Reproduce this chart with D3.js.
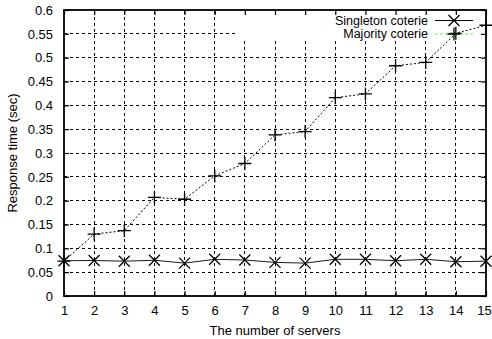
<!DOCTYPE html>
<html>
<head>
<meta charset="utf-8">
<script src="https://cdn.jsdelivr.net/npm/d3@7"></script>
<style>
  body { margin: 0; background: #fff; }
  text { font-family: "Liberation Sans", Arial, sans-serif; font-size: 13px; fill: #000; }
</style>
</head>
<body>
<svg id="chart" width="492" height="339"></svg>
<script>
// servers on x, response times in seconds
const servers = [1, 2, 3, 4, 5, 6, 7, 8, 9, 10, 11, 12, 13, 14, 15];
const singleton = [0.074, 0.0745, 0.073, 0.075, 0.069, 0.077, 0.0755, 0.0705, 0.069, 0.077, 0.077, 0.074, 0.077, 0.072, 0.073];
const majority = [0.073, 0.13, 0.137, 0.207, 0.203, 0.252, 0.278, 0.338, 0.345, 0.416, 0.424, 0.483, 0.49, 0.551, 0.568];
const yTicks = [0, 0.05, 0.1, 0.15, 0.2, 0.25, 0.3, 0.35, 0.4, 0.45, 0.5, 0.55, 0.6];

const margin = { top: 10, right: 6, bottom: 43, left: 64 };
const width = 492 - margin.left - margin.right;
const height = 339 - margin.top - margin.bottom;

const svg = d3.select("#chart");
const g = svg.append("g").attr("transform", `translate(${margin.left},${margin.top})`);

const x = d3.scaleLinear().domain([1, 15]).range([0, width]);
const y = d3.scaleLinear().domain([0, 0.6]).range([height, 0]);

// legend box area, grid is cut out behind it
const legX = x(7.0) - 8;
const legY = y(0.535);

// grid
const grid = g.append("g")
  .attr("stroke", "#000")
  .attr("stroke-width", 1)
  .attr("shape-rendering", "crispEdges")
  .attr("stroke-dasharray", "3,3");

servers.slice(1, -1).forEach(s => {
  const top = s >= 7 ? legY : 0;
  grid.append("line")
    .attr("x1", x(s)).attr("x2", x(s))
    .attr("y1", height).attr("y2", top);
});
yTicks.slice(1, -1).forEach(v => {
  const right = y(v) < legY ? legX : width;
  grid.append("line")
    .attr("x1", 0).attr("x2", right)
    .attr("y1", y(v)).attr("y2", y(v));
});

// axes with mirrored inward ticks
const xAxis = g.append("g")
  .attr("transform", `translate(0,${height})`)
  .call(d3.axisBottom(x).tickValues(servers).tickFormat(d3.format("d")).tickSize(-5).tickPadding(10))
  .call(a => a.select(".domain").remove());
xAxis.selectAll(".tick text").filter(d => d === 15).attr("dx", -2);
g.append("g")
  .call(d3.axisLeft(y).tickValues(yTicks).tickFormat(d => d === 0 ? "0" : String(+d.toFixed(2))).tickSize(-5).tickPadding(11))
  .call(a => a.select(".domain").remove());
g.append("g")
  .call(d3.axisTop(x).tickValues(servers).tickSize(-5).tickFormat(""))
  .call(a => a.select(".domain").remove());
g.append("g")
  .attr("transform", `translate(${width},0)`)
  .call(d3.axisRight(y).tickValues(yTicks).tickSize(-5).tickFormat(""))
  .call(a => a.select(".domain").remove());
g.selectAll(".tick text").style("font-size", "13px").attr("fill", "#000");
g.selectAll(".tick line").attr("stroke-width", 1.2);

g.append("rect")
  .attr("width", width).attr("height", height)
  .attr("fill", "none").attr("stroke", "#000").attr("stroke-width", 1.8);

// lines
const line = d3.line().x((d, i) => x(servers[i])).y(d => y(d));

g.append("path")
  .datum(majority)
  .attr("fill", "none").attr("stroke", "#000").attr("stroke-width", 1)
  .attr("stroke-dasharray", "2,2")
  .attr("d", line);
g.append("path")
  .datum(singleton)
  .attr("fill", "none").attr("stroke", "#000").attr("stroke-width", 0.9)
  .attr("d", line);

function cross(sel, cx, cy, r) {
  sel.append("path")
    .attr("d", `M${cx - r},${cy - r}L${cx + r},${cy + r}M${cx - r},${cy + r}L${cx + r},${cy - r}`)
    .attr("stroke", "#000").attr("stroke-width", 1.3);
}
function plus(sel, cx, cy, r) {
  sel.append("path")
    .attr("d", `M${cx - r},${cy}L${cx + r},${cy}M${cx},${cy - r}L${cx},${cy + r}`)
    .attr("stroke", "#000").attr("stroke-width", 1.3);
}

majority.forEach((v, i) => plus(g, x(servers[i]), y(v), 6.5));
singleton.forEach((v, i) => cross(g, x(servers[i]), y(v), 5.5));

// legend
const legend = [
  { name: "Singleton coterie", color: "#000", dash: null, mark: cross },
  { name: "Majority coterie", color: "#7fdf5f", dash: "3,2", mark: plus }
];
const lg = svg.append("g");
legend.forEach((d, i) => {
  const ly = 20.5 + i * 13.5;
  lg.append("text")
    .attr("x", 428).attr("y", ly).attr("dy", "0.35em")
    .attr("text-anchor", "end")
    .style("font-size", "12.5px")
    .text(d.name);
  lg.append("line")
    .attr("x1", 435).attr("x2", 473).attr("y1", ly).attr("y2", ly)
    .attr("stroke", d.color).attr("stroke-width", 1)
    .attr("stroke-dasharray", d.dash);
  d.mark(lg, 454, ly, i === 0 ? 5.5 : 6.5);
});

// axis titles
svg.append("text")
  .attr("x", margin.left + width / 2).attr("y", 335)
  .attr("text-anchor", "middle")
  .text("The number of servers");
svg.append("text")
  .attr("transform", `translate(17,${margin.top + height / 2}) rotate(-90)`)
  .attr("text-anchor", "middle")
  .text("Response time (sec)");
</script>
</body>
</html>
